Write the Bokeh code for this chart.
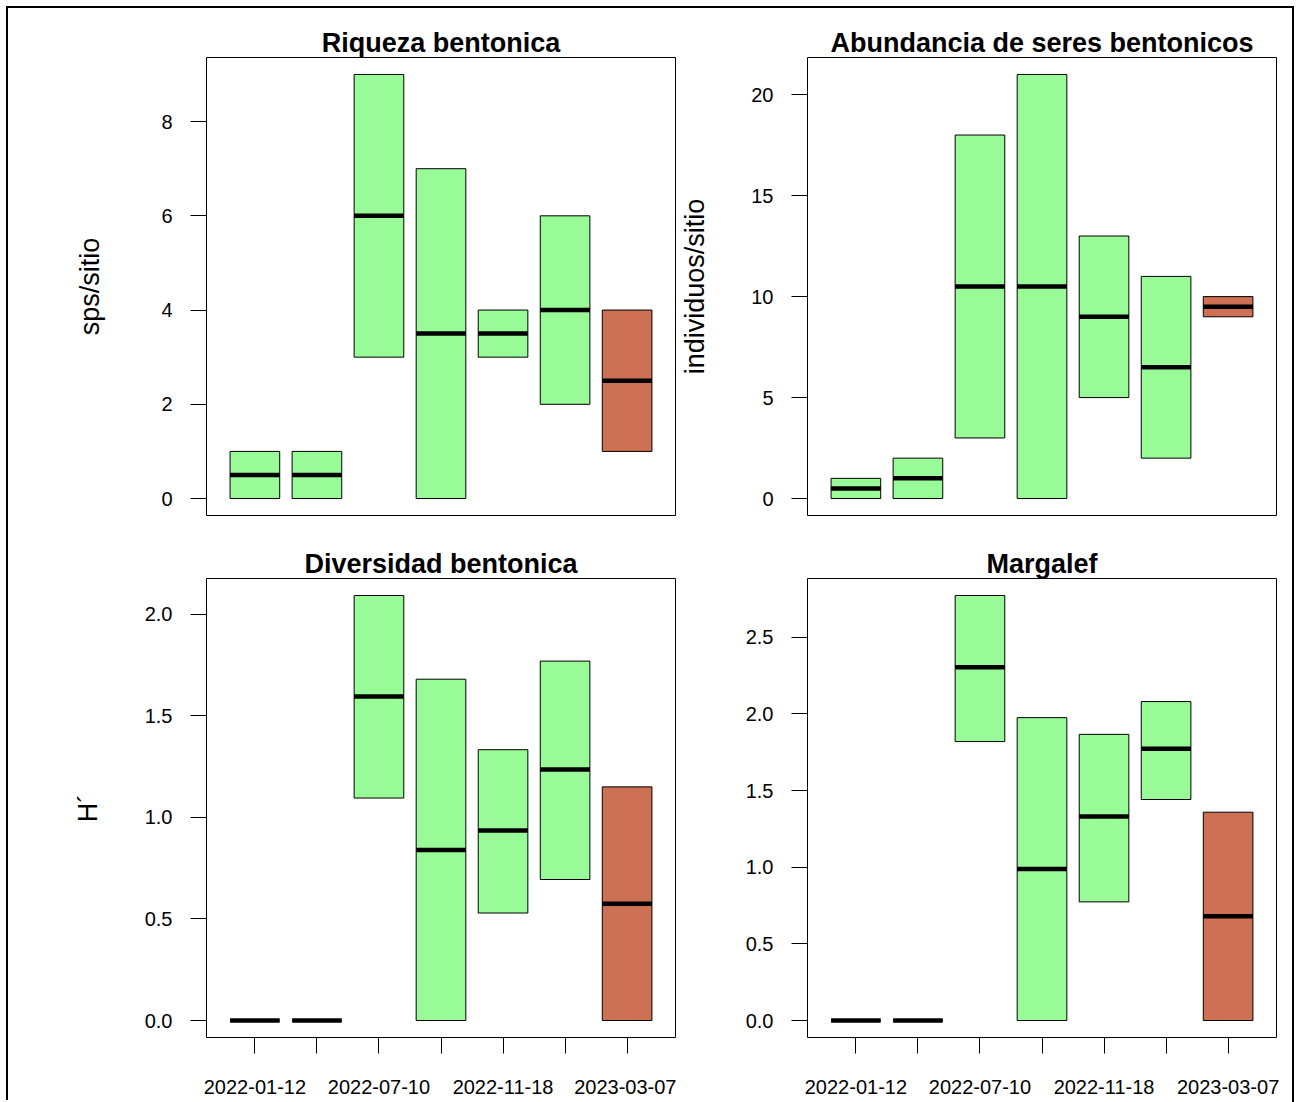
from bokeh.plotting import figure
from bokeh.layouts import gridplot
from bokeh.models import FixedTicker, Range1d
from bokeh.embed import file_html
from bokeh.resources import INLINE

# ---- data ----
posiciones = [1, 2, 3, 4, 5, 6, 7]
fechas = ["2022-01-12", "", "2022-07-10", "", "2022-11-18", "", "2023-03-07"]
colores = ["#98FB98", "#98FB98", "#98FB98", "#98FB98", "#98FB98", "#98FB98", "#CD7054"]

riq_lo = [0, 0, 3, 0, 3, 2, 1]
riq_hi = [1, 1, 9, 7, 4, 6, 4]
riq_med = [0.5, 0.5, 6, 3.5, 3.5, 4, 2.5]

abu_lo = [0, 0, 3, 0, 5, 2, 9]
abu_hi = [1, 2, 18, 21, 13, 11, 10]
abu_med = [0.5, 1, 10.5, 10.5, 9, 6.5, 9.5]

div_lo = [0, 0, 1.095, 0, 0.529, 0.694, 0]
div_hi = [0, 0, 2.092, 1.680, 1.333, 1.769, 1.150]
div_med = [0, 0, 1.595, 0.839, 0.935, 1.235, 0.575]

mar_lo = [0, 0, 1.820, 0, 0.774, 1.442, 0]
mar_hi = [0, 0, 2.773, 1.976, 1.867, 2.081, 1.359]
mar_med = [0, 0, 2.305, 0.988, 1.331, 1.773, 0.680]

FONT = "Liberation Sans"
BOXW = 0.8


def panel(title, ylabel, lo, hi, med, yticks, yfmt, width, height,
          mb_left, mb_right, mb_top, mb_bottom, show_x, lab_standoff):
    ymin = min(lo)
    ymax = max(hi)
    ext = 0.04 * (ymax - ymin)
    p = figure(width=width, height=height, output_backend="svg",
               toolbar_location=None,
               x_range=Range1d(0.5 - 0.28, 7.5 + 0.28),
               y_range=Range1d(ymin - ext, ymax + ext),
               x_axis_location="below" if show_x else None,
               min_border_left=mb_left, min_border_right=mb_right,
               min_border_top=mb_top, min_border_bottom=mb_bottom)
    p.title.text = title
    p.title.text_font = FONT
    p.title.text_font_size = "27px"
    p.title.text_font_style = "bold"
    p.title.text_color = "black"
    p.title.align = "center"
    p.title.standoff = 0
    p.xgrid.visible = False
    p.ygrid.visible = False
    p.outline_line_color = "black"
    p.outline_line_width = 1
    p.outline_line_alpha = 1
    p.border_fill_color = None

    left = [x - BOXW / 2 for x in posiciones]
    right = [x + BOXW / 2 for x in posiciones]
    p.quad(left=left, right=right, bottom=lo, top=hi, fill_color=colores,
           line_color="black", line_width=1)
    p.segment(x0=left, x1=right, y0=med, y1=med, line_color="black",
              line_width=4.5, line_cap="butt")

    ya = p.yaxis[0]
    ya.ticker = FixedTicker(ticks=yticks)
    ya.major_label_overrides = {t: (yfmt % t) for t in yticks}
    ya.axis_line_color = None
    ya.major_tick_out = 16
    ya.major_tick_in = 0
    ya.minor_tick_out = 0
    ya.minor_tick_in = 0
    ya.minor_tick_line_color = None
    ya.major_tick_line_color = "black"
    ya.major_label_standoff = 18
    ya.major_label_text_font = FONT
    ya.major_label_text_font_size = "20px"
    ya.major_label_text_color = "black"
    ya.axis_label = ylabel
    ya.axis_label_text_font = FONT
    ya.axis_label_text_font_size = "27px"
    ya.axis_label_text_font_style = "normal"
    ya.axis_label_text_color = "black"
    ya.axis_label_standoff = lab_standoff

    if show_x:
        xa = p.xaxis[0]
        xa.ticker = FixedTicker(ticks=posiciones)
        xa.major_label_overrides = {x: f for x, f in zip(posiciones, fechas)}
        xa.axis_line_color = None
        xa.major_tick_out = 16
        xa.major_tick_in = 0
        xa.minor_tick_out = 0
        xa.minor_tick_in = 0
        xa.minor_tick_line_color = None
        xa.major_tick_line_color = "black"
        xa.major_label_standoff = 26
        xa.major_label_text_font = FONT
        xa.major_label_text_font_size = "20px"
        xa.major_label_text_color = "black"
    return p


p1 = panel("Riqueza bentonica", "sps/sitio", riq_lo, riq_hi, riq_med,
           [0, 2, 4, 6, 8], "%d", 668, 522, 198, 1, 49, 15, False, 53)
p2 = panel("Abundancia de seres bentonicos", "individuos/sitio", abu_lo, abu_hi, abu_med,
           [0, 5, 10, 15, 20], "%d", 616, 522, 131, 16, 49, 15, False, 38)
p3 = panel("Diversidad bentonica", "H\u00b4", div_lo, div_hi, div_med,
           [0, 0.5, 1.0, 1.5, 2.0], "%.1f", 668, 572, 198, 1, 48, 65, True, 39)
p4 = panel("Margalef", "", mar_lo, mar_hi, mar_med,
           [0, 0.5, 1.0, 1.5, 2.0, 2.5], "%.1f", 616, 572, 131, 16, 48, 65, True, 36)

grid = gridplot([[p1, p2], [p3, p4]], toolbar_location=None)
grid.styles = {"margin-left": "8px", "margin-top": "8px",
               "box-shadow": "-2px -2px 0 0 #000, 2px -2px 0 0 #000, 2px 0 0 0 #000"}

open("out.html", "w").write(file_html(grid, INLINE))
